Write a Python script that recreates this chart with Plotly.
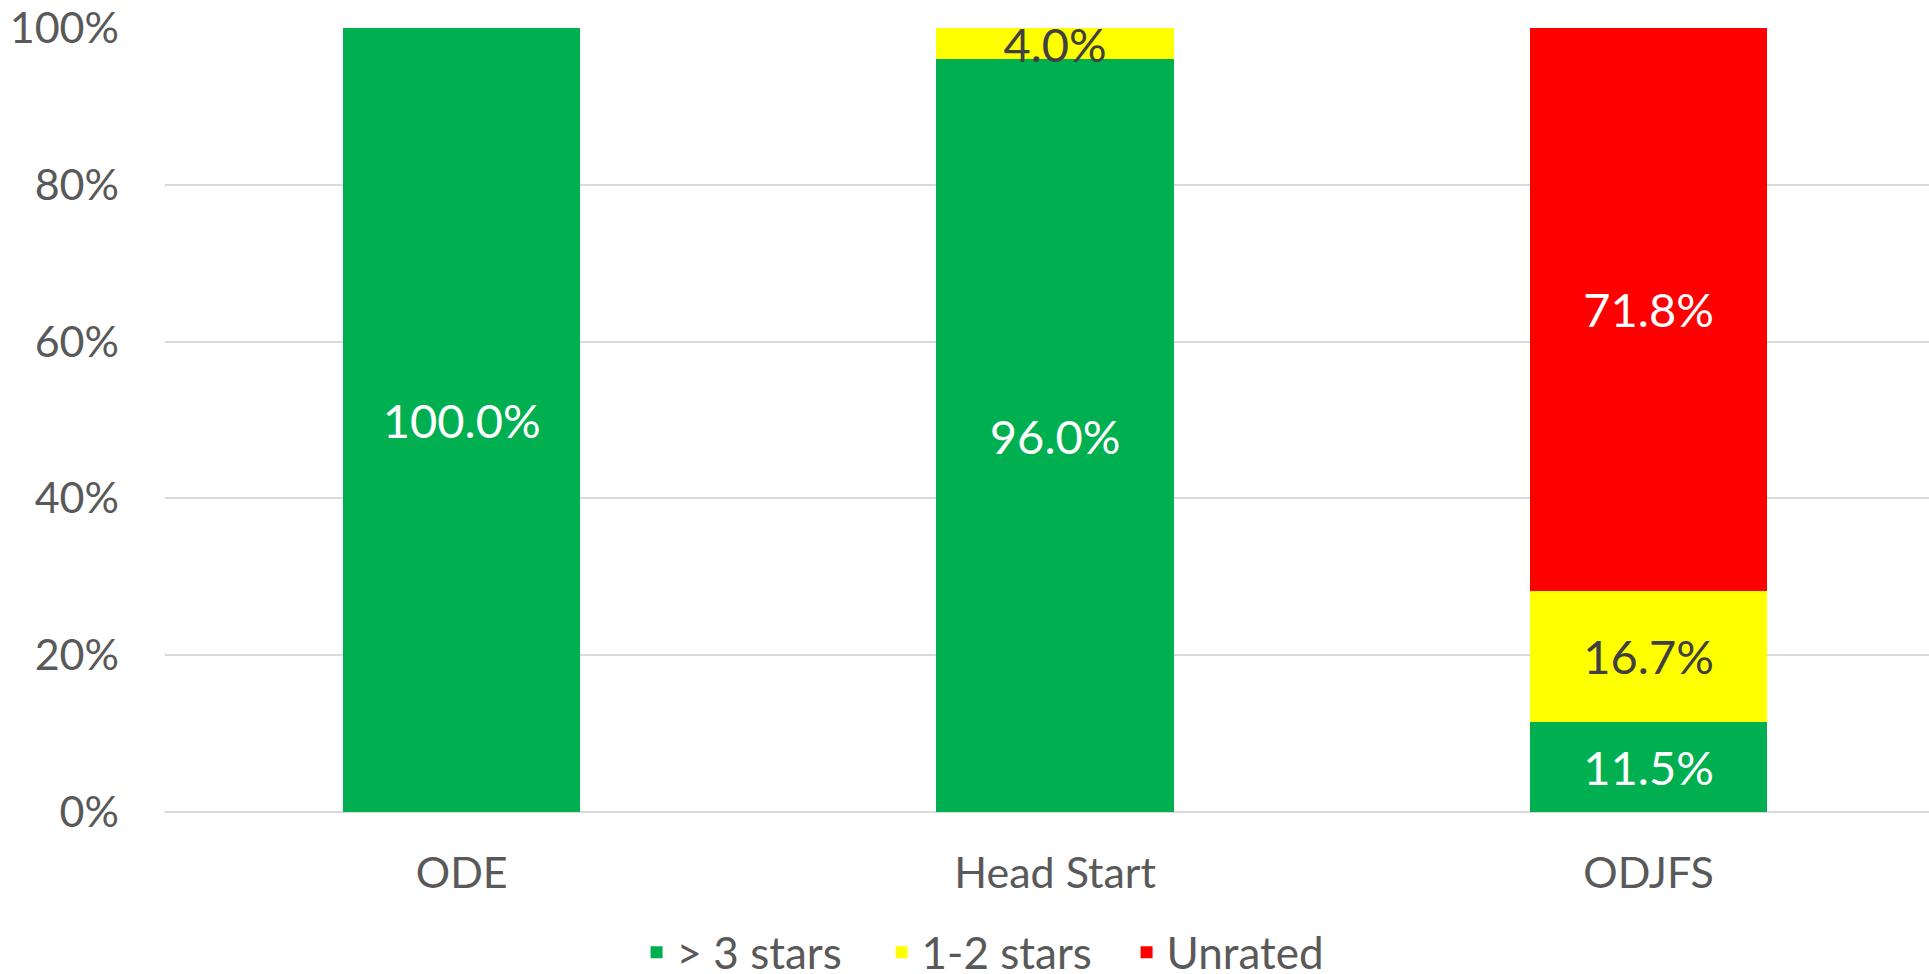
import plotly.graph_objects as go

categories = ["ODE", "Head Start", "ODJFS"]
series_names = ["> 3 stars", "1-2 stars", "Unrated"]
green_vals = [100.0, 96.0, 11.5]
yellow_vals = [None, 4.0, 16.7]
red_vals = [None, None, 71.8]
y_ticks = [0, 20, 40, 60, 80, 100]

colors = ["#00B050", "#FFFF00", "#FF0000"]
text_colors = ["#FFFFFF", "#404040", "#FFFFFF"]
FONT = "Lato"

fig = go.Figure()
for name, vals, col, tcol in zip(series_names, [green_vals, yellow_vals, red_vals], colors, text_colors):
    fig.add_trace(go.Bar(
        name=name,
        x=categories,
        y=vals,
        marker=dict(color=col, line=dict(width=0)),
        text=[("" if v is None else f"{v:.1f}%") for v in vals],
        textposition="inside",
        insidetextanchor="middle",
        textangle=0,
        constraintext="none",
        textfont=dict(family=FONT, size=47, color=tcol),
        width=0.4,
        hoverinfo="skip",
    ))

fig.update_layout(
    barmode="stack",
    width=1929,
    height=974,
    margin=dict(l=165, r=0, t=28, b=162, autoexpand=False),
    paper_bgcolor="white",
    plot_bgcolor="white",
    font=dict(family=FONT, color="#595959"),
    showlegend=True,
    legend=dict(
        orientation="h",
        xref="container",
        yref="container",
        x=0.33,
        xanchor="left",
        y=0.022,
        yanchor="middle",
        font=dict(family=FONT, size=44, color="#595959"),
        traceorder="normal",
        bgcolor="rgba(0,0,0,0)",
        itemwidth=30,
        entrywidth=200,
    ),
    xaxis=dict(
        range=[-0.5, 2.4726],
        showgrid=False,
        showline=False,
        zeroline=False,
        ticks="",
        automargin=False,
        tickfont=dict(family=FONT, size=43, color="#595959"),
        ticklabelstandoff=32,
        fixedrange=True,
    ),
    yaxis=dict(
        range=[0, 100],
        tickvals=y_ticks,
        ticktext=[f"{t}%" for t in y_ticks],
        showgrid=True,
        gridcolor="#D9D9D9",
        gridwidth=2,
        zeroline=True,
        zerolinecolor="#D9D9D9",
        zerolinewidth=2,
        showline=False,
        ticks="",
        automargin=False,
        tickfont=dict(family=FONT, size=43, color="#595959"),
        ticklabelstandoff=45,
        fixedrange=True,
    ),
)

fig.write_html(
    "out.html",
    config={"displayModeBar": False},
    post_script="document.body.style.margin='0px';document.body.style.overflow='hidden';",
)
